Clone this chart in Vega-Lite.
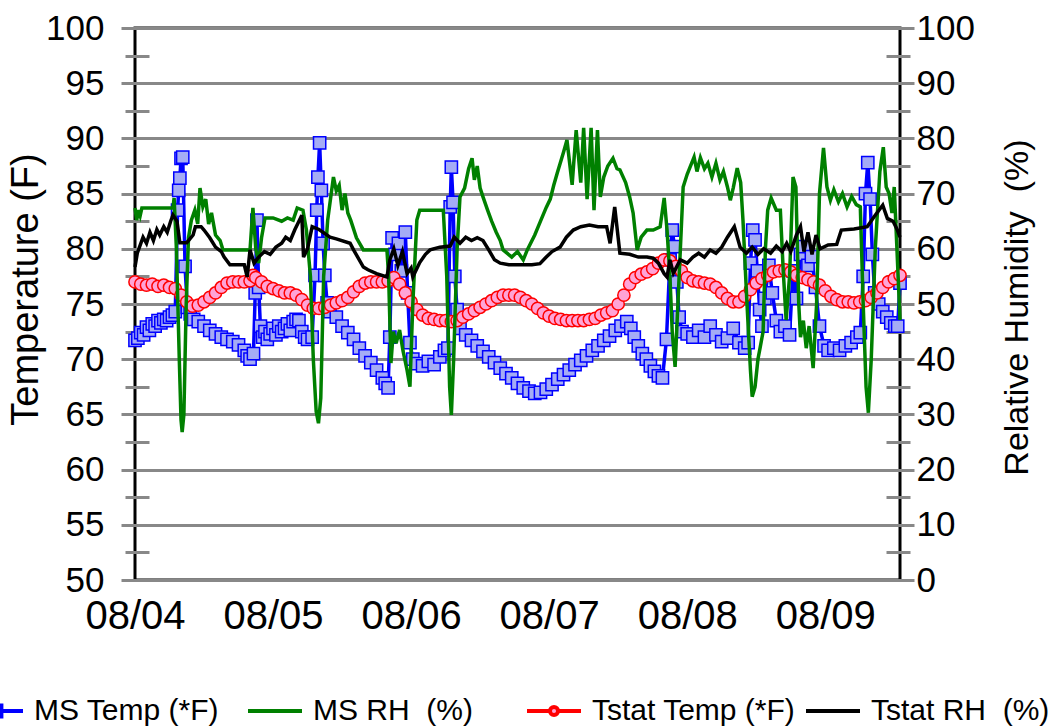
{
"$schema":"https://vega.github.io/schema/vega-lite/v6.json",
"width":765,"height":552,
"autosize":{"type":"none"},
"padding":{"left":135,"top":28,"right":152,"bottom":146},
"config":{
 "font":"Liberation Sans",
 "view":{"stroke":"#000000","strokeWidth":3},
 "axis":{"labelFont":"Liberation Sans","titleFont":"Liberation Sans","labelColor":"#000000","titleColor":"#000000","titleFontWeight":"normal"},
 "legend":{"orient":"none","legendX":-168,"legendY":654,"direction":"horizontal","columns":4,"gridAlign":"all","columnPadding":2,"padding":0,"labelFontSize":30,"labelFont":"Liberation Sans","labelColor":"#000000","labelOffset":9,"symbolSize":2916,"symbolStrokeWidth":4,"labelLimit":400}
},
"datasets":{
"mt":[{"h":0,"v":71.7},{"h":0.5,"v":71.9},{"h":1,"v":72.4},{"h":1.5,"v":72.2},{"h":2,"v":72.9},{"h":2.5,"v":72.6},{"h":3,"v":73.2},{"h":3.5,"v":73.0},{"h":4,"v":73.5},{"h":4.5,"v":73.3},{"h":5,"v":73.6},{"h":5.5,"v":73.5},{"h":6,"v":73.8},{"h":6.5,"v":74.0},{"h":7,"v":74.3},{"h":7.4,"v":83.5},{"h":7.6,"v":85.3},{"h":7.8,"v":86.4},{"h":8.0,"v":88.2},{"h":8.3,"v":88.3},{"h":8.7,"v":78.4},{"h":9.1,"v":74.7},{"h":9.6,"v":74.1},{"h":10.2,"v":73.6},{"h":11,"v":73.4},{"h":12,"v":73.0},{"h":13,"v":72.6},{"h":14,"v":72.3},{"h":15,"v":72.0},{"h":16,"v":71.8},{"h":17,"v":71.6},{"h":18,"v":71.3},{"h":19,"v":70.8},{"h":19.5,"v":70.3},{"h":20,"v":70.0},{"h":20.6,"v":70.5},{"h":20.9,"v":76.0},{"h":21.2,"v":82.6},{"h":21.5,"v":76.5},{"h":21.8,"v":73.0},{"h":22.2,"v":72.0},{"h":22.6,"v":72.5},{"h":23,"v":71.8},{"h":23.5,"v":72.3},{"h":24,"v":72.8},{"h":24.5,"v":72.2},{"h":25,"v":73.0},{"h":25.5,"v":72.5},{"h":26,"v":72.8},{"h":26.5,"v":73.2},{"h":27,"v":72.6},{"h":27.5,"v":73.4},{"h":28,"v":73.6},{"h":28.5,"v":73.5},{"h":29,"v":72.5},{"h":29.5,"v":72.0},{"h":30,"v":71.8},{"h":30.8,"v":72.0},{"h":31.3,"v":77.6},{"h":31.6,"v":83.5},{"h":31.8,"v":86.5},{"h":32.1,"v":89.6},{"h":32.4,"v":85.3},{"h":32.7,"v":80.5},{"h":33.0,"v":77.6},{"h":33.4,"v":75.1},{"h":33.9,"v":74.3},{"h":35,"v":73.8},{"h":36,"v":73.0},{"h":37,"v":72.4},{"h":38,"v":71.8},{"h":39,"v":71.0},{"h":40,"v":70.3},{"h":41,"v":69.7},{"h":42,"v":69.0},{"h":43,"v":68.3},{"h":43.5,"v":67.8},{"h":44,"v":67.4},{"h":44.3,"v":72.0},{"h":44.7,"v":81.0},{"h":45.2,"v":79.5},{"h":45.8,"v":80.5},{"h":46.3,"v":78.0},{"h":47.0,"v":81.5},{"h":47.4,"v":76.0},{"h":47.8,"v":71.5},{"h":48.3,"v":70.0},{"h":49,"v":69.6},{"h":50,"v":69.4},{"h":51,"v":69.8},{"h":52,"v":69.5},{"h":53,"v":70.2},{"h":53.8,"v":70.8},{"h":54.4,"v":71.0},{"h":54.8,"v":83.8},{"h":55.0,"v":87.4},{"h":55.3,"v":84.2},{"h":55.6,"v":77.5},{"h":56.0,"v":74.5},{"h":56.5,"v":72.8},{"h":57.5,"v":72.2},{"h":58.5,"v":71.7},{"h":59.5,"v":71.2},{"h":60.5,"v":70.7},{"h":61.5,"v":70.2},{"h":62.5,"v":69.7},{"h":63.5,"v":69.2},{"h":64.5,"v":68.7},{"h":65.5,"v":68.3},{"h":66.5,"v":67.8},{"h":67.5,"v":67.4},{"h":68.5,"v":67.1},{"h":69.5,"v":66.9},{"h":70.5,"v":67.0},{"h":71.5,"v":67.3},{"h":72.5,"v":67.7},{"h":73.5,"v":68.2},{"h":74.5,"v":68.6},{"h":75.5,"v":69.0},{"h":76.5,"v":69.5},{"h":77.5,"v":69.9},{"h":78.5,"v":70.3},{"h":79.5,"v":70.8},{"h":80.5,"v":71.2},{"h":81.5,"v":71.7},{"h":82.5,"v":72.1},{"h":83.5,"v":72.6},{"h":84.5,"v":73.0},{"h":85.5,"v":73.4},{"h":86.2,"v":72.8},{"h":86.8,"v":72.0},{"h":87.5,"v":71.2},{"h":88.2,"v":70.5},{"h":88.9,"v":70.0},{"h":89.6,"v":69.4},{"h":90.3,"v":68.9},{"h":91,"v":68.5},{"h":91.7,"v":68.3},{"h":92.4,"v":71.8},{"h":93.0,"v":79.0},{"h":93.4,"v":81.7},{"h":93.8,"v":80.2},{"h":94.2,"v":77.0},{"h":94.6,"v":73.8},{"h":95.1,"v":72.5},{"h":96,"v":72.3},{"h":97,"v":72.0},{"h":98,"v":72.6},{"h":99,"v":72.0},{"h":100,"v":73.0},{"h":101,"v":72.2},{"h":102,"v":71.6},{"h":103,"v":71.9},{"h":104,"v":72.8},{"h":105,"v":71.5},{"h":106,"v":71.0},{"h":106.6,"v":71.5},{"h":107,"v":78.7},{"h":107.4,"v":81.7},{"h":107.8,"v":80.8},{"h":108.2,"v":78.0},{"h":108.6,"v":74.5},{"h":109,"v":73.0},{"h":109.5,"v":75.5},{"h":110.2,"v":78.5},{"h":110.8,"v":76.0},{"h":111.5,"v":73.5},{"h":112.2,"v":72.5},{"h":113,"v":73.0},{"h":113.8,"v":72.2},{"h":114.4,"v":78.0},{"h":115,"v":75.5},{"h":115.7,"v":79.5},{"h":116.3,"v":80.2},{"h":117,"v":78.5},{"h":117.6,"v":79.3},{"h":118.3,"v":76.5},{"h":119,"v":73.0},{"h":119.8,"v":71.2},{"h":120.5,"v":70.8},{"h":121.5,"v":71.0},{"h":122.5,"v":70.8},{"h":123.5,"v":71.2},{"h":124.5,"v":71.5},{"h":125.5,"v":72.0},{"h":126.1,"v":72.4},{"h":126.6,"v":77.5},{"h":127,"v":85.0},{"h":127.4,"v":87.8},{"h":127.8,"v":84.5},{"h":128.2,"v":79.5},{"h":128.6,"v":76.0},{"h":129.3,"v":75.0},{"h":130,"v":74.3},{"h":130.7,"v":73.8},{"h":131.4,"v":73.3},{"h":132.1,"v":73.0},{"h":132.6,"v":73.0},{"h":133,"v":76.9}],
"tt":[{"h":0,"v":77.0},{"h":1,"v":76.8},{"h":2,"v":76.7},{"h":3,"v":76.8},{"h":4,"v":76.6},{"h":5,"v":76.7},{"h":6,"v":76.5},{"h":7,"v":76.4},{"h":8,"v":75.8},{"h":9,"v":75.2},{"h":10,"v":74.8},{"h":11,"v":74.9},{"h":12,"v":75.2},{"h":13,"v":75.6},{"h":14,"v":76.0},{"h":15,"v":76.5},{"h":16,"v":76.9},{"h":17,"v":77.0},{"h":18,"v":77.0},{"h":19,"v":77.0},{"h":20,"v":77.1},{"h":20.5,"v":77.6},{"h":21,"v":77.4},{"h":22,"v":77.0},{"h":23,"v":76.6},{"h":24,"v":76.4},{"h":25,"v":76.2},{"h":26,"v":76.0},{"h":27,"v":76.0},{"h":28,"v":75.8},{"h":29,"v":75.4},{"h":30,"v":74.9},{"h":31,"v":74.6},{"h":32,"v":74.6},{"h":33,"v":74.7},{"h":34,"v":74.9},{"h":35,"v":75.1},{"h":36,"v":75.3},{"h":37,"v":75.6},{"h":38,"v":76.1},{"h":39,"v":76.6},{"h":40,"v":76.9},{"h":41,"v":77.0},{"h":42,"v":77.0},{"h":43,"v":77.0},{"h":44,"v":77.1},{"h":45,"v":77.4},{"h":46,"v":76.8},{"h":47,"v":76.0},{"h":48,"v":75.2},{"h":49,"v":74.5},{"h":50,"v":74.0},{"h":51,"v":73.7},{"h":52,"v":73.6},{"h":53,"v":73.5},{"h":54,"v":73.5},{"h":55,"v":73.4},{"h":56,"v":73.5},{"h":57,"v":73.8},{"h":58,"v":74.1},{"h":59,"v":74.4},{"h":60,"v":74.7},{"h":61,"v":75.0},{"h":62,"v":75.3},{"h":63,"v":75.6},{"h":64,"v":75.8},{"h":65,"v":75.8},{"h":66,"v":75.8},{"h":67,"v":75.6},{"h":68,"v":75.3},{"h":69,"v":75.0},{"h":70,"v":74.6},{"h":71,"v":74.2},{"h":72,"v":73.9},{"h":73,"v":73.7},{"h":74,"v":73.6},{"h":75,"v":73.5},{"h":76,"v":73.5},{"h":77,"v":73.5},{"h":78,"v":73.5},{"h":79,"v":73.6},{"h":80,"v":73.7},{"h":81,"v":74.0},{"h":82,"v":74.2},{"h":83,"v":74.4},{"h":84,"v":75.0},{"h":85,"v":75.8},{"h":86,"v":76.8},{"h":87,"v":77.4},{"h":88,"v":77.7},{"h":89,"v":77.9},{"h":90,"v":78.2},{"h":91,"v":78.7},{"h":92,"v":79.0},{"h":93,"v":78.9},{"h":94,"v":78.4},{"h":95,"v":78.0},{"h":96,"v":77.4},{"h":97,"v":77.1},{"h":98,"v":77.0},{"h":99,"v":76.9},{"h":100,"v":76.8},{"h":101,"v":76.5},{"h":102,"v":76.0},{"h":103,"v":75.5},{"h":104,"v":75.2},{"h":105,"v":75.2},{"h":106,"v":75.7},{"h":107,"v":76.3},{"h":108,"v":76.9},{"h":109,"v":77.3},{"h":110,"v":77.6},{"h":111,"v":77.9},{"h":112,"v":78.0},{"h":113,"v":78.1},{"h":114,"v":77.9},{"h":115,"v":77.6},{"h":116,"v":77.4},{"h":117,"v":77.2},{"h":118,"v":77.0},{"h":119,"v":76.7},{"h":120,"v":76.2},{"h":121,"v":75.7},{"h":122,"v":75.4},{"h":123,"v":75.2},{"h":124,"v":75.2},{"h":125,"v":75.1},{"h":126,"v":75.2},{"h":127,"v":75.3},{"h":128,"v":75.6},{"h":129,"v":76.0},{"h":130,"v":76.5},{"h":131,"v":77.0},{"h":132,"v":77.3},{"h":133,"v":77.6}],
"tr":[{"h":0,"v":56.7},{"h":0.4,"v":59.2},{"h":1.4,"v":62.1},{"h":2,"v":61.0},{"h":2.6,"v":63.0},{"h":3.2,"v":61.5},{"h":3.8,"v":63.5},{"h":4.3,"v":62.5},{"h":5,"v":64.0},{"h":5.6,"v":63.0},{"h":6.2,"v":65.0},{"h":6.6,"v":66.1},{"h":7.3,"v":65.0},{"h":7.8,"v":61.1},{"h":9,"v":61.1},{"h":10.1,"v":62.5},{"h":10.5,"v":64.0},{"h":11.5,"v":64.0},{"h":12,"v":63.4},{"h":13,"v":62.0},{"h":14,"v":60.3},{"h":15,"v":59.5},{"h":15.5,"v":58.5},{"h":16.5,"v":57.1},{"h":19,"v":57.1},{"h":19.5,"v":54.9},{"h":20,"v":59.8},{"h":20.7,"v":57.4},{"h":21.5,"v":58.5},{"h":22.5,"v":59.5},{"h":23.5,"v":59.0},{"h":24.5,"v":60.3},{"h":25.5,"v":61.0},{"h":26.2,"v":62.1},{"h":27,"v":61.5},{"h":27.8,"v":63.5},{"h":28.5,"v":65.0},{"h":29,"v":66.1},{"h":29.3,"v":58.5},{"h":30,"v":60.0},{"h":30.8,"v":64.0},{"h":32,"v":63.5},{"h":33.9,"v":62.1},{"h":35,"v":61.8},{"h":37.4,"v":61.0},{"h":38,"v":59.8},{"h":39.7,"v":56.7},{"h":40.5,"v":56.2},{"h":42,"v":55.5},{"h":43.8,"v":54.9},{"h":44.3,"v":58.0},{"h":45,"v":60.0},{"h":45.7,"v":57.0},{"h":46.5,"v":59.5},{"h":47.3,"v":55.5},{"h":48,"v":56.5},{"h":48.3,"v":54.9},{"h":49.5,"v":57.5},{"h":50.5,"v":59.0},{"h":51.3,"v":59.8},{"h":53,"v":60.3},{"h":54.8,"v":60.5},{"h":55.5,"v":62.1},{"h":56.5,"v":61.0},{"h":57.5,"v":62.1},{"h":58.5,"v":61.5},{"h":59.5,"v":62.0},{"h":60.5,"v":61.5},{"h":61.5,"v":59.8},{"h":62.5,"v":58.0},{"h":63.5,"v":57.4},{"h":65,"v":57.1},{"h":67,"v":57.1},{"h":69,"v":57.1},{"h":70.4,"v":57.3},{"h":71.5,"v":58.5},{"h":72.5,"v":59.5},{"h":73.9,"v":60.3},{"h":75,"v":62.1},{"h":76.2,"v":63.4},{"h":77.5,"v":64.0},{"h":79,"v":64.3},{"h":80.5,"v":64.0},{"h":82,"v":64.0},{"h":82.6,"v":61.0},{"h":83.4,"v":67.6},{"h":84.3,"v":59.2},{"h":86,"v":59.0},{"h":87.5,"v":58.5},{"h":89,"v":58.5},{"h":90.1,"v":58.3},{"h":91,"v":57.4},{"h":92,"v":55.5},{"h":92.5,"v":54.9},{"h":93,"v":58.0},{"h":93.6,"v":55.6},{"h":94.8,"v":58.0},{"h":96,"v":57.4},{"h":97,"v":58.5},{"h":98,"v":59.2},{"h":99,"v":58.5},{"h":100,"v":59.8},{"h":101,"v":59.2},{"h":102,"v":60.3},{"h":103,"v":62.1},{"h":104.2,"v":64.0},{"h":105.2,"v":60.3},{"h":106.3,"v":59.2},{"h":107.3,"v":60.3},{"h":108.3,"v":59.0},{"h":109.3,"v":60.0},{"h":110.5,"v":59.2},{"h":111.5,"v":60.5},{"h":112.5,"v":59.5},{"h":113.3,"v":61.0},{"h":114,"v":59.5},{"h":115,"v":62.5},{"h":115.7,"v":64.0},{"h":116.3,"v":59.5},{"h":117,"v":63.0},{"h":117.7,"v":59.0},{"h":118.4,"v":62.5},{"h":119.1,"v":60.0},{"h":120.5,"v":60.7},{"h":122,"v":60.8},{"h":122.8,"v":63.4},{"h":125,"v":63.6},{"h":127.3,"v":64.0},{"h":128.5,"v":65.8},{"h":129.5,"v":67.2},{"h":130,"v":67.9},{"h":130.8,"v":65.5},{"h":131.8,"v":65.0},{"h":132.5,"v":63.5},{"h":133,"v":62.1}],
"mr":[{"h":0,"v":67.4},{"h":0.3,"v":65.2},{"h":0.6,"v":67.0},{"h":0.9,"v":66.0},{"h":1.2,"v":67.4},{"h":3,"v":67.4},{"h":5,"v":67.4},{"h":6.6,"v":67.4},{"h":6.8,"v":69.2},{"h":7.2,"v":60},{"h":7.7,"v":40.0},{"h":8.0,"v":29.0},{"h":8.2,"v":26.8},{"h":8.5,"v":30.0},{"h":8.9,"v":50.0},{"h":9.3,"v":62.0},{"h":9.8,"v":65.2},{"h":10.4,"v":67.0},{"h":10.9,"v":64.5},{"h":11.3,"v":71.0},{"h":11.8,"v":67.6},{"h":12.3,"v":69.0},{"h":12.8,"v":64.5},{"h":13.3,"v":66.5},{"h":14,"v":62.5},{"h":14.8,"v":61.5},{"h":15.3,"v":59.8},{"h":17,"v":59.8},{"h":19,"v":59.8},{"h":20,"v":59.8},{"h":20.5,"v":67.4},{"h":21,"v":60.0},{"h":21.5,"v":57.4},{"h":22,"v":62.0},{"h":22.6,"v":65.6},{"h":24,"v":65.6},{"h":25.5,"v":65.0},{"h":26.5,"v":65.6},{"h":27.5,"v":65.2},{"h":28.2,"v":67.4},{"h":29.2,"v":67.0},{"h":29.8,"v":63.4},{"h":30.5,"v":55},{"h":31,"v":40},{"h":31.5,"v":30.5},{"h":31.9,"v":28.4},{"h":32.3,"v":33},{"h":32.8,"v":55},{"h":33.5,"v":65.2},{"h":34.5,"v":73.0},{"h":35,"v":70.5},{"h":35.5,"v":71.5},{"h":36,"v":67.0},{"h":36.5,"v":70.0},{"h":37,"v":66.5},{"h":37.5,"v":65.2},{"h":38.5,"v":62.0},{"h":39.7,"v":59.8},{"h":42,"v":59.8},{"h":43.8,"v":59.8},{"h":44.1,"v":54.9},{"h":44.5,"v":39.3},{"h":44.9,"v":45.0},{"h":45.4,"v":42.9},{"h":46,"v":45.3},{"h":46.6,"v":41.5},{"h":47.3,"v":38.0},{"h":47.8,"v":35.0},{"h":48.3,"v":50},{"h":49.0,"v":65.2},{"h":49.5,"v":67.0},{"h":51,"v":67.0},{"h":52.5,"v":67.0},{"h":53.6,"v":67.0},{"h":54.2,"v":55},{"h":54.7,"v":35},{"h":55.0,"v":29.9},{"h":55.4,"v":40},{"h":56.0,"v":60},{"h":56.5,"v":69.4},{"h":57.3,"v":71.0},{"h":58.0,"v":74.5},{"h":58.6,"v":76.4},{"h":59.0,"v":72.5},{"h":59.5,"v":75.0},{"h":60.0,"v":71.0},{"h":60.5,"v":69.4},{"h":61.3,"v":67.0},{"h":62.0,"v":65.0},{"h":62.8,"v":63.0},{"h":63.5,"v":61.5},{"h":64.0,"v":59.8},{"h":65.5,"v":58.5},{"h":66.5,"v":59.5},{"h":67.5,"v":58.0},{"h":68.2,"v":59.8},{"h":69.5,"v":62.5},{"h":70.5,"v":65.0},{"h":71.5,"v":67.5},{"h":72.2,"v":69.0},{"h":72.8,"v":71.5},{"h":73.4,"v":73.7},{"h":74.5,"v":77.5},{"h":75.1,"v":79.7},{"h":76.0,"v":71.6},{"h":76.7,"v":81.5},{"h":77.5,"v":72.0},{"h":78.0,"v":81.9},{"h":78.6,"v":69.0},{"h":79.3,"v":81.9},{"h":79.8,"v":67.0},{"h":80.4,"v":81.5},{"h":80.9,"v":69.4},{"h":81.5,"v":73.0},{"h":82.2,"v":75.0},{"h":83.1,"v":76.4},{"h":83.8,"v":74.5},{"h":84.3,"v":74.3},{"h":85.3,"v":72.0},{"h":86.0,"v":69.4},{"h":86.6,"v":66.5},{"h":87.3,"v":59.8},{"h":88.0,"v":62.1},{"h":89,"v":63.4},{"h":90.1,"v":63.4},{"h":91.3,"v":64.0},{"h":92,"v":69.2},{"h":92.5,"v":63.4},{"h":93.0,"v":55},{"h":93.4,"v":45},{"h":93.9,"v":38.6},{"h":94.6,"v":55},{"h":95.3,"v":71.2},{"h":96.0,"v":73.5},{"h":96.5,"v":74.8},{"h":97.2,"v":76.6},{"h":97.7,"v":74.0},{"h":98.3,"v":76.5},{"h":99.0,"v":74.5},{"h":99.6,"v":75.5},{"h":100.3,"v":73.0},{"h":101,"v":75.5},{"h":101.7,"v":72.5},{"h":102.3,"v":74.0},{"h":103,"v":71.2},{"h":103.5,"v":68.8},{"h":104,"v":71.0},{"h":104.7,"v":74.6},{"h":105.3,"v":72.0},{"h":105.7,"v":65.2},{"h":106.4,"v":50},{"h":107.0,"v":38},{"h":107.3,"v":33.2},{"h":107.8,"v":35.0},{"h":108.3,"v":40},{"h":108.7,"v":42.2},{"h":109.2,"v":45},{"h":109.6,"v":60},{"h":110.0,"v":67.0},{"h":110.6,"v":69.2},{"h":111.5,"v":67.0},{"h":112.2,"v":67.0},{"h":112.7,"v":56},{"h":113.2,"v":47.1},{"h":113.8,"v":55},{"h":114.4,"v":73.0},{"h":114.9,"v":71.2},{"h":115.4,"v":50},{"h":115.7,"v":44.0},{"h":116.2,"v":47},{"h":116.7,"v":42},{"h":117.2,"v":46},{"h":117.9,"v":38.4},{"h":118.5,"v":50},{"h":119.0,"v":70},{"h":119.7,"v":78.3},{"h":120.3,"v":71.2},{"h":120.9,"v":68.8},{"h":121.5,"v":70.7},{"h":122.3,"v":68.5},{"h":123,"v":70.0},{"h":123.8,"v":67.6},{"h":124.6,"v":69.5},{"h":125.4,"v":68.0},{"h":126.1,"v":67.6},{"h":126.6,"v":50},{"h":127.1,"v":35},{"h":127.5,"v":30.3},{"h":128.0,"v":40},{"h":128.7,"v":60},{"h":129.5,"v":74},{"h":130.1,"v":78.4},{"h":130.6,"v":71.2},{"h":131.1,"v":70.0},{"h":131.6,"v":66.5},{"h":132.0,"v":71.2},{"h":132.5,"v":59.2},{"h":133.0,"v":47.1}]
},
"encoding":{"x":{"field":"h","type":"quantitative","scale":{"domain":[0,133],"nice":false,"zero":false},
 "axis":{"title":null,"values":[0,24,48,72,96,120],"labelExpr":"['08/04','08/05','08/06','08/07','08/08','08/09'][round(datum.value/24)]","labelFontSize":40,"labelPadding":16,"ticks":false,"tickSize":0,"domain":false,"grid":false,"labelFlush":false,"labelOverlap":false}}},
"layer":[
 {"encoding":{"y":{"field":"v","type":"quantitative","scale":{"domain":[50,100],"nice":false,"zero":false},
   "axis":{"title":"Temperature (F)","orient":"left","values":[50,52.5,55,57.5,60,62.5,65,67.5,70,72.5,75,77.5,80,82.5,85,87.5,90,92.5,95,97.5,100],
    "labelExpr":"datum.value % 5 === 0 ? datum.label : ''","labelFontSize":35,"labelPadding":17,"labelOverlap":false,"labelFlush":false,
    "offset":-14,"domain":false,"tickColor":"#888888","tickWidth":3,
    "tickSize":{"condition":{"test":"datum.value % 5 !== 0","value":24},"value":28},
    "grid":true,"gridColor":"#888888","gridWidth":3,
    "gridOpacity":{"condition":{"test":"datum.value % 5 !== 0","value":0},"value":1},
    "titleFontSize":38,"titleX":-112,"titleY":261,"titleBaseline":"alphabetic","titleAngle":-90}}},
  "layer":[
   {"data":{"name":"mt"},"mark":{"type":"line","strokeWidth":3.5},
    "encoding":{"color":{"datum":"MS Temp (*F)","type":"nominal",
      "scale":{"domain":["MS Temp (*F)","MS RH\u00a0 (%)","Tstat Temp (*F)","Tstat RH\u00a0 (%)"],"range":["#0000ff","#008000","#ff0000","#000000"]},
      "legend":{"title":null,"encode":{"symbols":{"update":{
        "shape":{"signal":"datum.value === 'MS Temp (*F)' ? 'M-1,0H-0.2M0.2,0H1M-0.2,-0.2H0.2V0.2H-0.2Z' : datum.value === 'Tstat Temp (*F)' ? 'M-1,0H-0.15M0.15,0H1M-0.15,0A0.15,0.15 0 1,0 0.15,0A0.15,0.15 0 1,0 -0.15,0Z' : 'M-1,0H1'"},
        "fill":{"signal":"datum.value === 'MS Temp (*F)' ? '#a5acf5' : datum.value === 'Tstat Temp (*F)' ? '#ffa3d6' : 'transparent'"}}}}}}}},
   {"data":{"name":"mt"},"mark":{"type":"point","shape":"square","filled":true,"fill":"#a5acf5","stroke":"#0000ff","strokeWidth":1.5,"size":150,"opacity":1}},
   {"data":{"name":"tt"},"mark":{"type":"line","strokeWidth":3.5},"encoding":{"color":{"datum":"Tstat Temp (*F)","type":"nominal"}}},
   {"data":{"name":"tt"},"mark":{"type":"point","shape":"circle","filled":true,"fill":"#ffa3d6","stroke":"#ff0000","strokeWidth":1.5,"size":150,"opacity":1}}
  ]},
 {"encoding":{"y":{"field":"v","type":"quantitative","scale":{"domain":[0,100],"nice":false,"zero":false},
   "axis":{"title":"Relative Humidity\u00a0 (%)","orient":"right","values":[0,5,10,15,20,25,30,35,40,45,50,55,60,65,70,75,80,85,90,95,100],
    "labelExpr":"datum.value % 10 === 0 ? datum.label : ''","labelFontSize":35,"labelPadding":2,"labelOverlap":false,"labelFlush":false,
    "offset":-14,"domain":false,"tickColor":"#888888","tickWidth":3,
    "tickSize":{"condition":{"test":"datum.value % 10 !== 0","value":24},"value":28},
    "grid":false,"titleFontSize":34,"titleX":141,"titleY":279,"titleBaseline":"alphabetic","titleAngle":-90}}},
  "layer":[
   {"data":{"name":"mr"},"mark":{"type":"line","strokeWidth":3.5},"encoding":{"color":{"datum":"MS RH\u00a0 (%)","type":"nominal"}}},
   {"data":{"name":"tr"},"mark":{"type":"line","strokeWidth":3.5},"encoding":{"color":{"datum":"Tstat RH\u00a0 (%)","type":"nominal"}}}
  ]}
],
"resolve":{"scale":{"y":"independent"}}
}
